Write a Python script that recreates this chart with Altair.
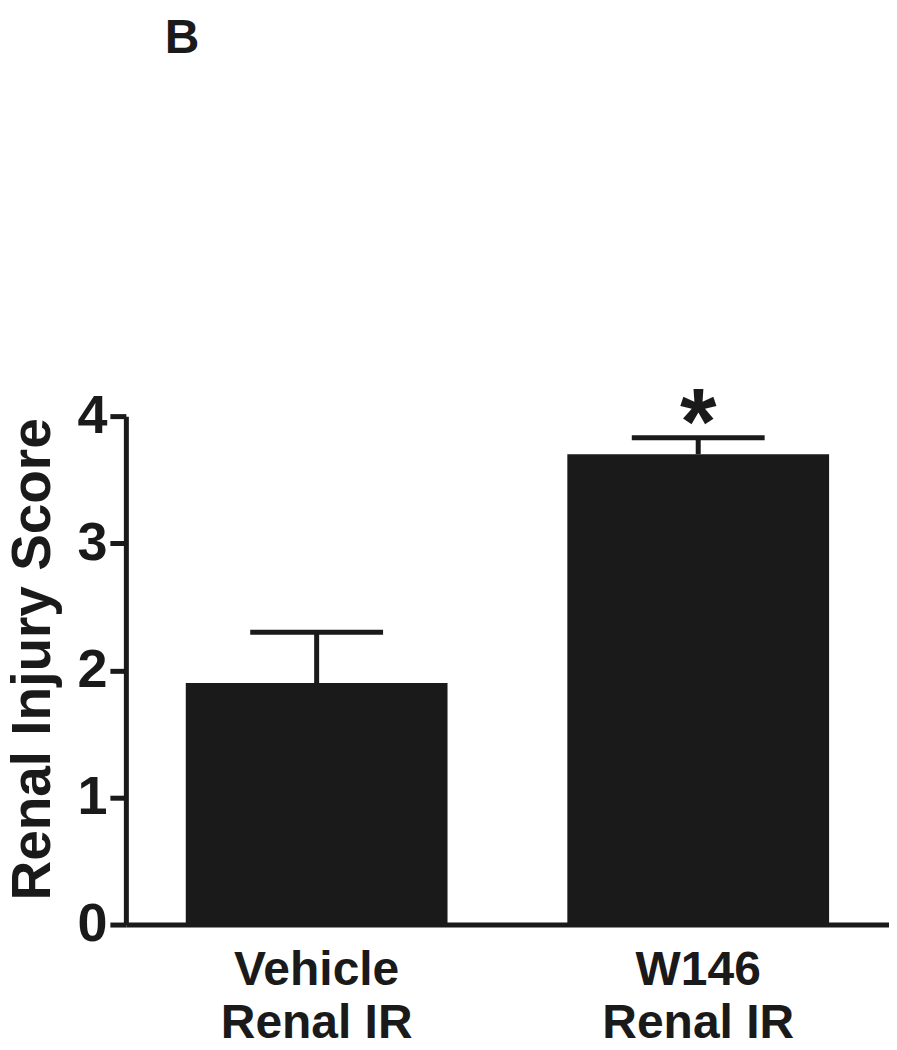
import altair as alt
import pandas as pd

groups = ["Vehicle|Renal IR", "W146|Renal IR"]
means = [1.9, 3.7]
sems = [0.4, 0.13]
marks = ["", "*"]

df = pd.DataFrame({
    "group": groups,
    "mean": means,
    "upper": [m + s for m, s in zip(means, sems)],
    "mark": marks,
})

FONT = "Liberation Sans"
INK = "#1a1a1a"

x = alt.X("group:N", sort=groups, title=None,
          scale=alt.Scale(paddingInner=0.314, paddingOuter=0.157),
          axis=alt.Axis(labelExpr="split(datum.label, '|')", labelAngle=0,
                        labelFont=FONT, labelFontSize=48, labelFontWeight="bold",
                        labelColor=INK, labelPadding=22, labelLineHeight=53,
                        labelLimit=0,
                        ticks=False, domainColor=INK, domainWidth=5))

y_scale = alt.Scale(domain=[0, 4], nice=False)

bars = alt.Chart(df).mark_bar(color=INK).encode(
    x=x,
    y=alt.Y("mean:Q", scale=y_scale, title="Renal Injury Score",
            axis=alt.Axis(values=[0, 1, 2, 3, 4], format="d", grid=False,
                          labelFont=FONT, labelFontSize=54, labelFontWeight="bold",
                          labelColor=INK, labelPadding=3,
                          tickSize=16, tickWidth=5, tickColor=INK,
                          domainColor=INK, domainWidth=5,
                          titleFont=FONT, titleFontSize=55, titleFontWeight="bold",
                          titleColor=INK, titlePadding=15, titleY=243)),
)

err = alt.Chart(df).mark_rule(color=INK, strokeWidth=5).encode(
    x=alt.X("group:N", sort=groups),
    y=alt.Y("mean:Q", scale=y_scale),
    y2="upper:Q",
)

caps = alt.Chart(df).mark_tick(color=INK, opacity=1, thickness=5, size=133,
                               orient="horizontal").encode(
    x=alt.X("group:N", sort=groups),
    y=alt.Y("upper:Q", scale=y_scale),
)

star = alt.Chart(df).mark_text(color=INK, font=FONT, fontSize=94, fontWeight="bold",
                               baseline="bottom", dy=36).encode(
    x=alt.X("group:N", sort=groups),
    y=alt.Y("upper:Q", scale=y_scale),
    text="mark:N",
)

chart = alt.layer(bars, err, caps, star).properties(
    width=764, height=509,
    autosize=alt.AutoSizeParams(type="none"),
    padding={"left": 118, "top": 408, "right": 0, "bottom": 124},
    title=alt.TitleParams("B", anchor="start", frame="group", font=FONT, fontSize=48,
                          fontWeight="bold", color=INK, offset=316, dx=39),
).configure(background="white", view=alt.ViewConfig(stroke=None, strokeWidth=0))

chart.save("out.html", embed_options={"renderer": "svg", "actions": False})
